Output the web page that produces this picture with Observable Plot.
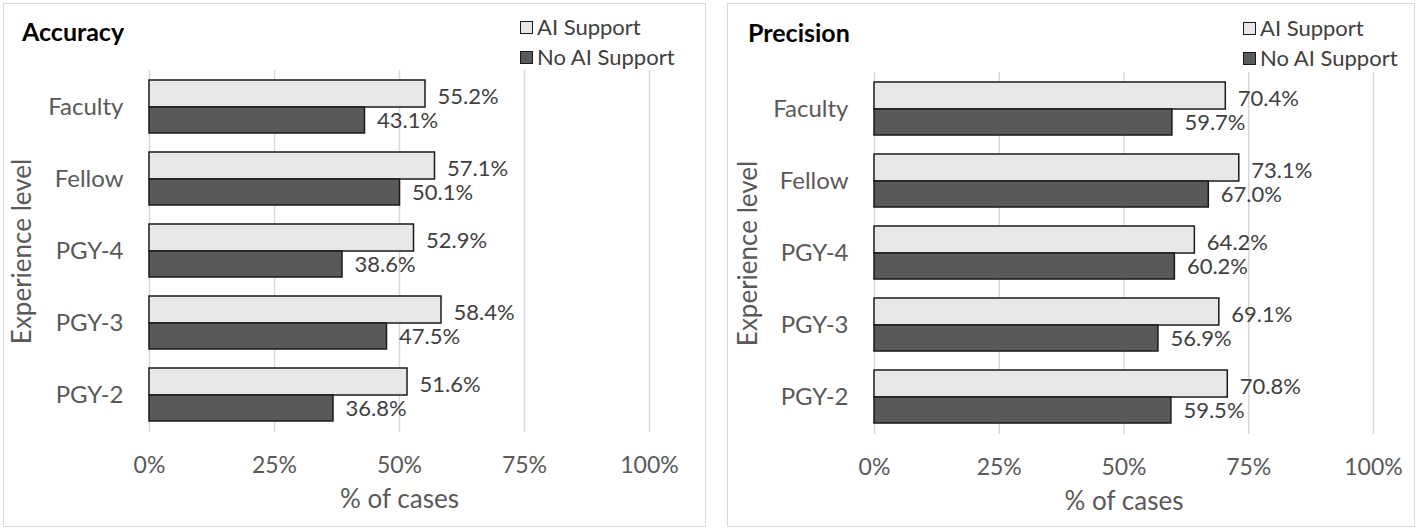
<!DOCTYPE html>
<html>
<head>
<meta charset="utf-8">
<script src="https://cdn.jsdelivr.net/npm/d3@7"></script>
<script src="https://cdn.jsdelivr.net/npm/@observablehq/plot@0.6"></script>
<style>
  html, body { margin: 0; padding: 0; background: #fff; }
  #root { position: relative; width: 1418px; height: 531px; overflow: hidden; font-family: Lato, "Open Sans", sans-serif; }
  .panel { position: absolute; border: 1.5px solid #d9d9d9; box-sizing: border-box; }
  .chart { position: absolute; top: 0; }
  .title { position: absolute; font-weight: bold; font-size: 25px; color: #000; line-height: 1; }
  .leg { position: absolute; font-size: 22px; color: #404040; line-height: 1; display: flex; align-items: center; white-space: nowrap; }
  .sw { width: 11px; height: 11px; border: 1.5px solid #1a1a1a; margin-right: 4px; }
</style>
</head>
<body>
<div id="root"></div>
<script>
const categories = ["Faculty", "Fellow", "PGY-4", "PGY-3", "PGY-2"];
const series = ["AI Support", "No AI Support"];
const accuracyAI = [55.2, 57.1, 52.9, 58.4, 51.6];
const accuracyNoAI = [43.1, 50.1, 38.6, 47.5, 36.8];
const precisionAI = [70.4, 73.1, 64.2, 69.1, 70.8];
const precisionNoAI = [59.7, 67.0, 60.2, 56.9, 59.5];
const xTicks = [0, 25, 50, 75, 100];
const titles = ["Accuracy", "Precision"];
const xLabel = "% of cases";
const yLabel = "Experience level";

const fills = {"AI Support": "#e8e8e8", "No AI Support": "#595959"};
const root = document.getElementById("root");

function rows(ai, noai) {
  return categories.flatMap((c, i) => [
    {category: c, series: series[0], value: ai[i]},
    {category: c, series: series[1], value: noai[i]}
  ]);
}

function makeChart(data, m) {
  const ai = data.filter(d => d.series === series[0]);
  const no = data.filter(d => d.series === series[1]);
  return Plot.plot({
    width: 708,
    height: 531,
    marginLeft: m.left,
    marginRight: m.right,
    marginTop: m.top,
    marginBottom: m.bottom,
    style: {fontFamily: "Lato, 'Open Sans', sans-serif", background: "transparent", overflow: "visible"},
    x: {domain: [0, 100]},
    y: {domain: categories, padding: 0},
    marks: [
      Plot.gridX(xTicks, {stroke: "#d9d9d9", strokeOpacity: 1, strokeWidth: 1.5}),
      Plot.axisX({ticks: xTicks, tickSize: 0, tickPadding: 24, tickFormat: d => d + "%", fontSize: 23, fill: "#595959", label: null}),
      Plot.axisY({tickSize: 0, tickPadding: 26, fontSize: 24, fill: "#595959", label: null}),
      Plot.barX(ai, {x: "value", y: "category", fill: fills[series[0]], stroke: "#1a1a1a", strokeWidth: 1.5, insetTop: 9, insetBottom: 36}),
      Plot.barX(no, {x: "value", y: "category", fill: fills[series[1]], stroke: "#1a1a1a", strokeWidth: 1.5, insetTop: 36, insetBottom: 10}),
      Plot.text(ai, {x: "value", y: "category", text: d => d.value.toFixed(1) + "%", textAnchor: "start", dx: 12, dy: -11, fontSize: 22, fill: "#404040"}),
      Plot.text(no, {x: "value", y: "category", text: d => d.value.toFixed(1) + "%", textAnchor: "start", dx: 12, dy: 13, fontSize: 22, fill: "#404040"}),
      Plot.text([xLabel], {frameAnchor: "bottom", dy: 75, fontSize: 26, fill: "#595959"}),
      Plot.text([yLabel], {frameAnchor: "left", textAnchor: "middle", dx: m.ylabelDx, rotate: -90, fontSize: 26, fill: "#595959"})
    ]
  });
}

const panels = [
  {data: rows(accuracyAI, accuracyNoAI), left: 0, border: [3, 3, 703, 524],
   m: {left: 149, right: 59, top: 70, bottom: 99, ylabelDx: -127},
   title: [22, 19], legend: [520, 539]},
  {data: rows(precisionAI, precisionNoAI), left: 710, border: [727, 3, 688, 524],
   m: {left: 164, right: 45, top: 72, bottom: 97, ylabelDx: -126},
   title: [748, 20], legend: [1243, 1262]}
];

panels.forEach((p, k) => {
  const b = document.createElement("div");
  b.className = "panel";
  Object.assign(b.style, {left: p.border[0] + "px", top: p.border[1] + "px", width: p.border[2] + "px", height: p.border[3] + "px"});
  root.appendChild(b);

  const svg = makeChart(p.data, p.m);
  svg.classList.add("chart");
  svg.style.left = p.left + "px";
  root.appendChild(svg);

  const t = document.createElement("div");
  t.className = "title";
  t.textContent = titles[k];
  Object.assign(t.style, {left: p.title[0] + "px", top: p.title[1] + "px"});
  root.appendChild(t);

  series.forEach((s, j) => {
    const l = document.createElement("div");
    l.className = "leg";
    Object.assign(l.style, {left: p.legend[0] + "px", top: (16 + k + j * 30) + "px"});
    const sw = document.createElement("div");
    sw.className = "sw";
    sw.style.background = fills[s];
    const tx = document.createElement("span");
    tx.textContent = s;
    l.appendChild(sw);
    l.appendChild(tx);
    root.appendChild(l);
  });
});
</script>
</body>
</html>
